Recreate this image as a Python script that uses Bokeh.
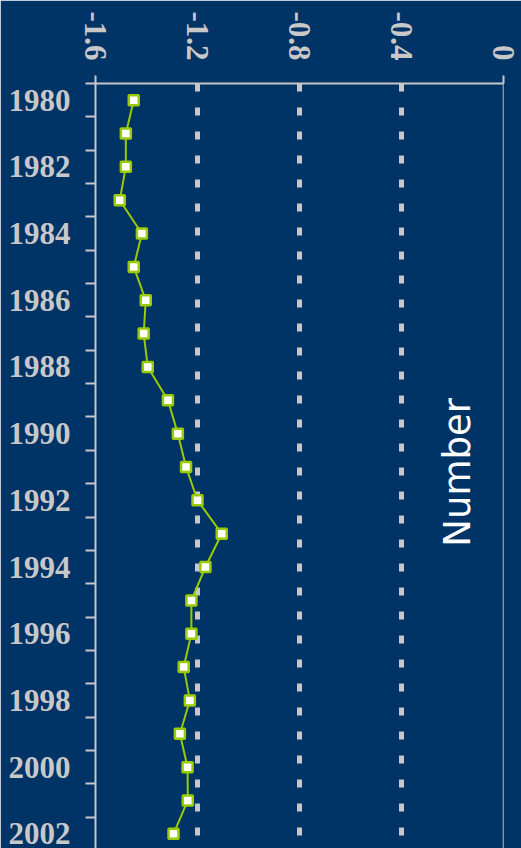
import math
from bokeh.plotting import figure
from bokeh.models import ColumnDataSource, Range1d, FixedTicker, Span, Label
from bokeh.embed import file_html
from bokeh.resources import INLINE

# ---- data ----
years = list(range(1980, 2003))
values = [-1.450, -1.481, -1.481, -1.505, -1.418, -1.450, -1.403, -1.411,
          -1.395, -1.316, -1.277, -1.245, -1.200, -1.105, -1.169, -1.224,
          -1.224, -1.254, -1.230, -1.269, -1.239, -1.238, -1.294]
x_ticks = [-1.6, -1.2, -0.8, -0.4, 0.0]
x_tick_labels = ["-1.6", "-1.2", "-0.8", "-0.4", "0"]
year_labels = [1980, 1982, 1984, 1986, 1988, 1990, 1992, 1994, 1996, 1998, 2000, 2002]
axis_title = "Number"

BG = "#003366"
GREY = "#c8c8c8"
GREEN = "#99cc00"

src = ColumnDataSource(dict(year=years, value=values))

p = figure(width=521, height=848, output_backend="svg", toolbar_location=None,
           x_range=Range1d(-1.6, 0), y_range=Range1d(2002.44, 1979.5),
           x_axis_location="above",
           min_border_left=95, min_border_right=18, min_border_top=83, min_border_bottom=0)
p.background_fill_color = BG
p.border_fill_color = BG
p.outline_line_color = None

# top axis (small end ticks at the range ends only)
xa = p.xaxis[0]
xa.ticker = FixedTicker(ticks=x_ticks, minor_ticks=[x_ticks[0], x_ticks[-1]])
xa.major_label_overrides = {t: l for t, l in zip(x_ticks, x_tick_labels)}
xa.major_label_orientation = -math.pi / 2
xa.major_tick_line_color = None
xa.major_tick_out = 0
xa.major_tick_in = 0
xa.minor_tick_in = 0
xa.minor_tick_out = 8
xa.minor_tick_line_color = GREY
xa.minor_tick_line_width = 2
xa.major_label_standoff = 15
xa.axis_line_color = GREY
xa.axis_line_width = 2
xa.major_label_text_color = GREY
xa.major_label_text_font = "Liberation Serif"
xa.major_label_text_font_style = "bold"
xa.major_label_text_font_size = "31px"

# left axis: labels at year centres, ticks at year boundaries
ya = p.yaxis[0]
boundaries = [y - 0.5 for y in years] + [years[-1] + 0.5]
ya.ticker = FixedTicker(ticks=year_labels, minor_ticks=boundaries)
ya.major_label_overrides = {y: str(y) for y in year_labels}
ya.major_tick_line_color = None
ya.major_tick_out = 0
ya.major_tick_in = 0
ya.minor_tick_in = 0
ya.minor_tick_out = 10
ya.minor_tick_line_color = GREY
ya.minor_tick_line_width = 2
ya.major_label_standoff = 15
ya.axis_line_color = GREY
ya.axis_line_width = 2
ya.major_label_text_color = GREY
ya.major_label_text_font = "Liberation Serif"
ya.major_label_text_font_style = "bold"
ya.major_label_text_font_size = "31px"

# grid
p.ygrid.visible = False
p.xgrid.ticker = FixedTicker(ticks=x_ticks[1:])
p.xgrid.grid_line_color = GREY
p.xgrid.grid_line_width = 5
p.xgrid.grid_line_dash = "8 16"

p.add_layout(Span(location=0, dimension="height", line_color=GREY, line_width=1.5))

# series
p.line("value", "year", source=src, line_color=GREEN, line_width=2)
p.scatter("value", "year", source=src, marker="square", size=10,
          fill_color="white", line_color=GREEN, line_width=2.5)

p.add_layout(Label(x=-0.179, y=1991.16, text=axis_title, angle=math.pi / 2,
                   text_align="center", text_baseline="middle", text_color="white",
                   text_font="DejaVu Sans", text_font_size="37px"))

html = file_html(p, INLINE)
html = html.replace("<body>", '<body style="margin:0;overflow:hidden;background-color:#003366;">', 1)
open("out.html", "w").write(html)
